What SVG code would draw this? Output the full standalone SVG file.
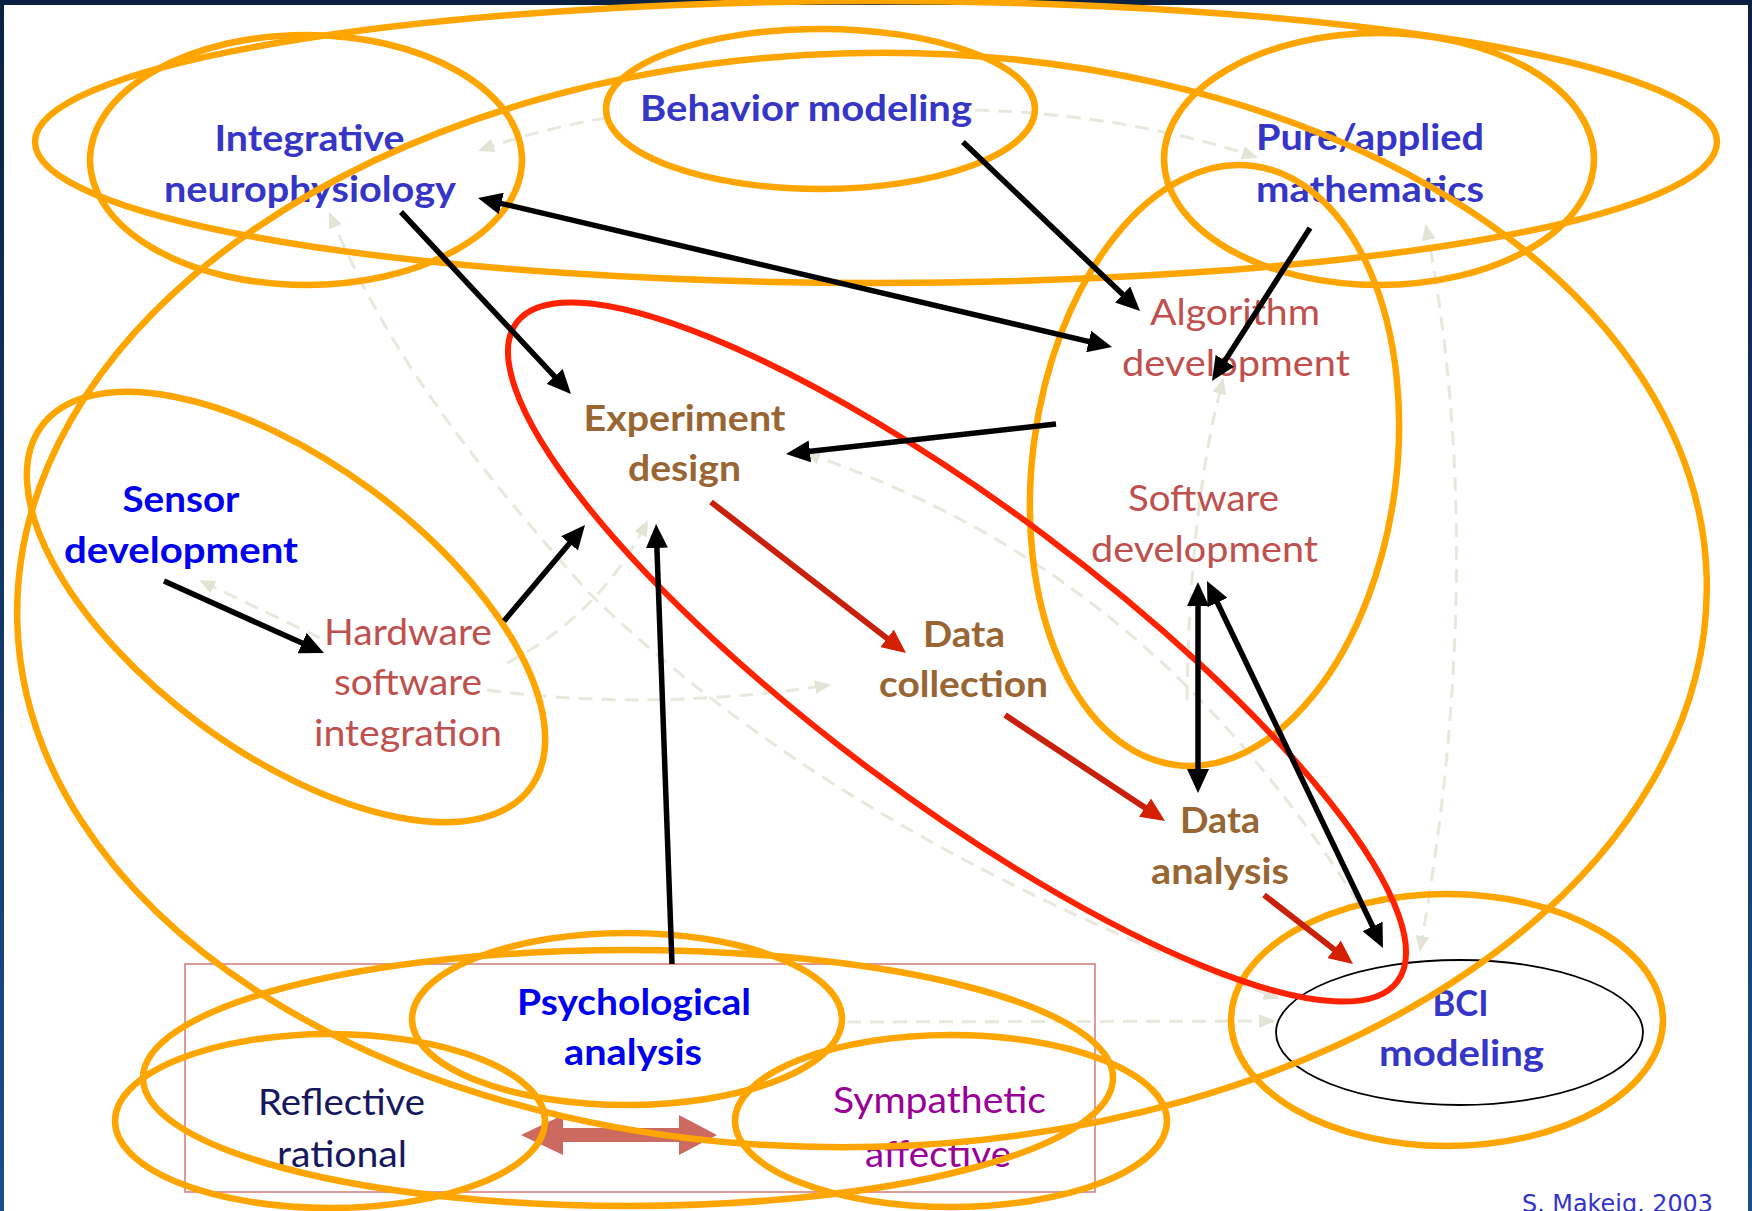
<svg xmlns="http://www.w3.org/2000/svg" width="1752" height="1211" viewBox="0 0 1752 1211">
<defs>
<linearGradient id="frame" x1="0" y1="0" x2="0" y2="1">
<stop offset="0" stop-color="#0B2142"/>
<stop offset="1" stop-color="#1B4E8C"/>
</linearGradient>
<marker id="ah" markerUnits="userSpaceOnUse" markerWidth="24" markerHeight="22" refX="6" refY="11" orient="auto-start-reverse" viewBox="0 0 24 22"><path d="M0,0 L24,11 L0,22 z" fill="#000"/></marker>
<marker id="ahr" markerUnits="userSpaceOnUse" markerWidth="24" markerHeight="22" refX="6" refY="11" orient="auto" viewBox="0 0 24 22"><path d="M0,0 L24,11 L0,22 z" fill="#D42000"/></marker>
<marker id="ahd" markerUnits="userSpaceOnUse" markerWidth="16" markerHeight="14" refX="14" refY="7" orient="auto-start-reverse" viewBox="0 0 16 14"><path d="M0,0 L16,7 L0,14 z" fill="#E2E5D6"/></marker>
</defs>
<style>
.lbl{font-family:"Lato","Liberation Sans",sans-serif;font-size:37px;text-anchor:middle}
.b{font-weight:bold}
.blue1{fill:#3535C8}
.blue2{fill:#0000F0}
.rust{fill:#C0504D}
.brown{fill:#996633}
.navy{fill:#17175E}
.purple{fill:#990099}
.orange{fill:none;stroke:#FFA500;stroke-width:6.5}
.dash{fill:none;stroke:#E6E9DC;stroke-width:3;stroke-dasharray:14 9}
.blk{fill:none;stroke:#000;stroke-width:5.5}
.red{fill:none;stroke:#C8200A;stroke-width:6}
</style>
<rect x="0" y="0" width="1752" height="1211" fill="url(#frame)"/>
<rect x="4" y="5" width="1744" height="1206" fill="#FFFFFF"/>

<g id="connectors-faint">
<path class="dash" d="M606,118 Q545,128 480,150" marker-end="url(#ahd)"/>
<path class="dash" d="M975,110 Q1130,115 1256,157" marker-end="url(#ahd)"/>
<path class="dash" d="M330,214 C390,360 480,470 589,593 C700,700 900,860 1278,998" marker-start="url(#ahd)" marker-end="url(#ahd)"/>
<path class="dash" d="M507,663 Q600,615 647,522" marker-end="url(#ahd)"/>
<path class="dash" d="M487,690 Q650,712 829,685" marker-end="url(#ahd)"/>
<path class="dash" d="M320,638 L201,581" marker-end="url(#ahd)"/>
<path class="dash" d="M806,453 C1000,520 1200,640 1375,930" marker-start="url(#ahd)"/>
<path class="dash" d="M1187,700 Q1190,500 1223,380" marker-end="url(#ahd)"/>
<path class="dash" d="M1426,226 C1470,450 1465,700 1420,950" marker-start="url(#ahd)" marker-end="url(#ahd)"/>
<path class="dash" d="M847,1022 L1273,1021" marker-end="url(#ahd)"/>
</g>

<rect id="frame-psych" x="185" y="964" width="910" height="228" fill="none" stroke="#D27A78" stroke-width="1.5"/>
<polygon id="fat-arrow" points="521,1135 563,1115 563,1128 679,1128 679,1115 717,1135 679,1155 679,1142 563,1142 563,1155" fill="#CC6A60"/>

<g id="node-integrative">
<text class="lbl b blue1" x="309.5" y="151" textLength="190" lengthAdjust="spacingAndGlyphs">Integrative</text>
<text class="lbl b blue1" x="310" y="202" textLength="292" lengthAdjust="spacingAndGlyphs">neurophysiology</text>
<ellipse class="orange" cx="306" cy="160" rx="216" ry="125"/>
</g>
<g id="node-behavior">
<text class="lbl b blue1" x="806" y="121" textLength="332" lengthAdjust="spacingAndGlyphs">Behavior modeling</text>
<ellipse class="orange" cx="820.5" cy="109" rx="214.5" ry="80"/>
</g>
<g id="node-pure">
<text class="lbl b blue1" x="1370" y="150" textLength="228" lengthAdjust="spacingAndGlyphs">Pure/applied</text>
<text class="lbl b blue1" x="1370" y="202" textLength="228" lengthAdjust="spacingAndGlyphs">mathematics</text>
<ellipse class="orange" cx="1379" cy="159" rx="215" ry="126"/>
</g>
<g id="node-algorithm">
<text class="lbl rust" x="1235" y="325" textLength="170" lengthAdjust="spacingAndGlyphs">Algorithm</text>
<text class="lbl rust" x="1236" y="376" textLength="228" lengthAdjust="spacingAndGlyphs">development</text>
</g>
<g id="node-software">
<text class="lbl rust" x="1203.5" y="511" textLength="151" lengthAdjust="spacingAndGlyphs">Software</text>
<text class="lbl rust" x="1204.5" y="562" textLength="227" lengthAdjust="spacingAndGlyphs">development</text>
<ellipse class="orange" cx="1214.5" cy="465.5" rx="182" ry="302" transform="rotate(7.4 1214.5 465.5)"/>
</g>
<g id="node-experiment">
<text class="lbl b brown" x="684.5" y="431" textLength="202" lengthAdjust="spacingAndGlyphs">Experiment</text>
<text class="lbl b brown" x="684.5" y="481" textLength="113" lengthAdjust="spacingAndGlyphs">design</text>
</g>
<g id="node-sensor">
<text class="lbl b blue2" x="181" y="512" textLength="117" lengthAdjust="spacingAndGlyphs">Sensor</text>
<text class="lbl b blue2" x="181" y="563" textLength="234" lengthAdjust="spacingAndGlyphs">development</text>
</g>
<g id="node-hardware">
<text class="lbl rust" x="408" y="645" textLength="168" lengthAdjust="spacingAndGlyphs">Hardware</text>
<text class="lbl rust" x="408" y="695" textLength="148" lengthAdjust="spacingAndGlyphs">software</text>
<text class="lbl rust" x="408" y="746" textLength="188" lengthAdjust="spacingAndGlyphs">integration</text>
</g>
<g id="node-data-collection">
<text class="lbl b brown" x="964" y="647" textLength="82" lengthAdjust="spacingAndGlyphs">Data</text>
<text class="lbl b brown" x="963.5" y="697" textLength="169" lengthAdjust="spacingAndGlyphs">collection</text>
</g>
<g id="node-data-analysis">
<text class="lbl b brown" x="1220" y="833" textLength="80" lengthAdjust="spacingAndGlyphs">Data</text>
<text class="lbl b brown" x="1220" y="884" textLength="138" lengthAdjust="spacingAndGlyphs">analysis</text>
</g>
<g id="node-bci">
<text class="lbl b blue1" x="1460.5" y="1016" textLength="56" lengthAdjust="spacingAndGlyphs">BCI</text>
<text class="lbl b blue1" x="1461.5" y="1066" textLength="165" lengthAdjust="spacingAndGlyphs">modeling</text>
<ellipse cx="1459.5" cy="1032.5" rx="183.5" ry="72.5" fill="none" stroke="#000" stroke-width="1.8"/>
<ellipse class="orange" cx="1447" cy="1020" rx="216" ry="126"/>
</g>
<g id="node-psych">
<text class="lbl b blue2" x="634" y="1015" textLength="234" lengthAdjust="spacingAndGlyphs">Psychological</text>
<text class="lbl b blue2" x="633" y="1065" textLength="138" lengthAdjust="spacingAndGlyphs">analysis</text>
<ellipse class="orange" cx="627" cy="1019" rx="215" ry="86"/>
</g>
<g id="node-reflective">
<text class="lbl navy" x="341.5" y="1115" textLength="167" lengthAdjust="spacingAndGlyphs">Reflective</text>
<text class="lbl navy" x="342" y="1167" textLength="130" lengthAdjust="spacingAndGlyphs">rational</text>
<ellipse class="orange" cx="330" cy="1121" rx="215" ry="87"/>
</g>
<g id="node-sympathetic">
<text class="lbl purple" x="939.5" y="1113" textLength="213" lengthAdjust="spacingAndGlyphs">Sympathetic</text>
<text class="lbl purple" x="938" y="1167" textLength="146" lengthAdjust="spacingAndGlyphs">affective</text>
<ellipse class="orange" cx="951" cy="1121" rx="216" ry="86"/>
</g>

<g id="groupings">
<ellipse class="orange" cx="876" cy="142" rx="841" ry="141"/>
<ellipse class="orange" cx="862" cy="600" rx="845" ry="547" transform="rotate(-1.5 862 600)"/>
<ellipse class="orange" cx="286" cy="607" rx="304" ry="145" transform="rotate(36.5 286 607)"/>
<ellipse class="orange" cx="628" cy="1078" rx="485" ry="128"/>
<ellipse id="pipeline-loop" fill="none" stroke="#FF2200" stroke-width="6" cx="957" cy="652" rx="550" ry="146" transform="rotate(36.8 957 652)"/>
</g>

<g id="connectors">
<path class="blk" d="M401,212 L558.7,380.8" marker-end="url(#ah)"/>
<path class="blk" d="M963,142 L1127,298.6" marker-end="url(#ah)"/>
<path class="blk" d="M495.5,202.1 L1094.5,342.9" marker-start="url(#ah)" marker-end="url(#ah)"/>
<path class="blk" d="M1310,228 L1221.7,365.8" marker-end="url(#ah)"/>
<path class="blk" d="M1056,424 L803.9,452" marker-end="url(#ah)"/>
<path class="blk" d="M504,621 L573.4,538.8" marker-end="url(#ah)"/>
<path class="blk" d="M164,581 L307.6,645.6" marker-end="url(#ah)"/>
<path class="blk" stroke-width="4.5" d="M672,964 L656.7,542" marker-end="url(#ah)"/>
<path class="blk" d="M1198,600 L1198,775" marker-start="url(#ah)" marker-end="url(#ah)"/>
<path class="blk" d="M1214.8,597.2 L1375.2,931.8" marker-start="url(#ah)" marker-end="url(#ah)"/>
<path class="red" d="M711,502 L891.8,642" marker-end="url(#ahr)"/>
<path class="red" d="M1005,715 L1150,811" marker-end="url(#ahr)"/>
<path class="red" d="M1264,895 L1338.8,953" marker-end="url(#ahr)"/>
</g>

<text id="credit" x="1522" y="1212" font-family="'DejaVu Sans',sans-serif" font-size="24" fill="#3333CC" textLength="191" lengthAdjust="spacingAndGlyphs">S. Makeig, 2003</text>
</svg>
